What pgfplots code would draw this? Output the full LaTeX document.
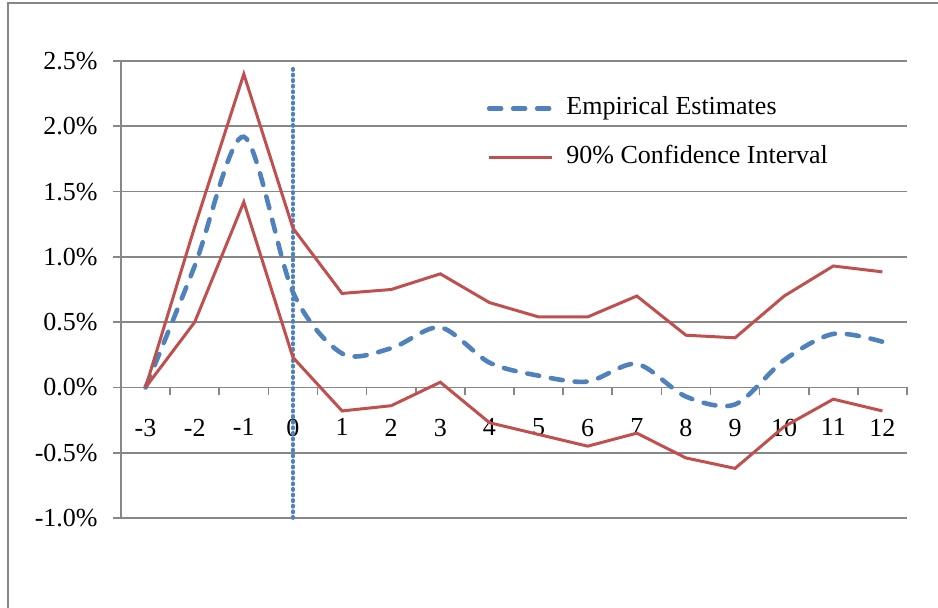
\documentclass[border=0pt]{standalone}
\usepackage{fontspec}
\setmainfont{Liberation Serif}
\usepackage{pgfplots}
\pgfplotsset{compat=1.18}
\definecolor{exblue}{HTML}{4F81BD}
\definecolor{exred}{HTML}{C0504D}
\definecolor{exgray}{HTML}{878787}

\pgfplotstableread{
x emp up lo
-3 0 0 0
-2 0.93 1.23 0.50
-1 1.92 2.40 1.42
0 0.73 1.22 0.23
1 0.26 0.72 -0.18
2 0.30 0.75 -0.14
3 0.46 0.87 0.04
4 0.19 0.65 -0.27
5 0.09 0.54 -0.36
6 0.045 0.54 -0.45
7 0.18 0.70 -0.35
8 -0.07 0.40 -0.54
9 -0.13 0.38 -0.62
10 0.21 0.70 -0.30
11 0.41 0.93 -0.09
12 0.35 0.885 -0.18
}\data

\begin{document}
\fontsize{13}{15.6}\selectfont
\begin{tikzpicture}
\path[use as bounding box] (-60.5pt,-44.5pt) rectangle (408.5pt,259pt);
\draw[exgray, line width=0.8pt] (-56.5pt,-60pt) -- (-56.5pt,257.5pt) -- (420pt,257.5pt);
\begin{axis}[
  at={(0,0)}, anchor=south west,
  width=393pt, height=228.5pt, scale only axis,
  xmin=-3.5, xmax=12.5, ymin=-1, ymax=2.5,
  axis x line*=middle, axis y line*=left,
  axis line style={exgray, line width=0.8pt},
  tick align=outside, major tick length=4pt,
  tick style={exgray, line width=0.8pt},
  xtick={-3.5,-2.5,...,12.5}, xticklabels={},
  extra x ticks={-3,-2,-1,0,1,2,3,4,5,6,7,8,9,10,11,12},
  extra x tick labels={-3,-2,-1,0,1,2,3,4,5,6,7,8,9,10,11,12},
  extra x tick style={major tick length=0pt, grid=none,
    xticklabel style={anchor=north, inner sep=0pt, yshift=-15.5pt}},
  ytick={-1,-0.5,0,0.5,1,1.5,2,2.5},
  yticklabels={-1.0\%,-0.5\%,0.0\%,0.5\%,1.0\%,1.5\%,2.0\%,2.5\%},
  yticklabel style={anchor=east, inner sep=0pt, xshift=-7.5pt},
  ticklabel style={font=\fontsize{13}{15.6}\selectfont},
  ymajorgrids, grid style={exgray, line width=0.8pt},
  clip=false,
  legend image code/.code={\draw[#1] (0pt,0pt) -- (31.5pt,0pt);},
  legend style={at={(0.465,0.842)}, anchor=west, draw=none, fill=none,
    inner sep=0pt, row sep=12.5pt, column sep=6pt,
    font=\fontsize{13}{15.6}\selectfont,
    nodes={inner sep=0pt, text height=9pt, text depth=3pt}},
  legend cell align=left,
]
\addplot[draw=exblue, line width=1.9pt, dash pattern=on 0.6pt off 2.2pt, line cap=round, forget plot] coordinates {(0,-1) (0,2.45)};
\addplot[exblue, line width=2.3pt, dash pattern=on 6pt off 6pt, line cap=round, smooth, tension=0.5] table[x=x, y=emp] {\data};
\addlegendentry{Empirical Estimates}
\addplot[exred, line width=1.5pt] table[x=x, y=up] {\data};
\addlegendentry{90\% Confidence Interval}
\addplot[exred, line width=1.5pt, forget plot] table[x=x, y=lo] {\data};
\end{axis}
\end{tikzpicture}
\end{document}
